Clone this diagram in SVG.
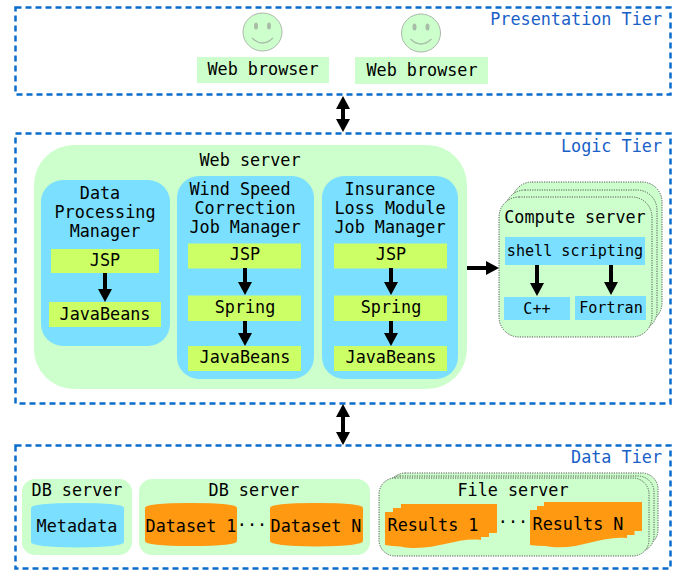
<svg xmlns="http://www.w3.org/2000/svg" width="678" height="570" viewBox="0 0 678 570">
<style>
text{font-family:"DejaVu Sans Mono","Liberation Mono",monospace;font-size:16.8px;fill:#000;text-anchor:middle}
text.s{font-size:15.1px}
text.tier{fill:#1a5fc8;text-anchor:end}
.tb{fill:none;stroke:#0a6ccc;stroke-width:2.5;stroke-dasharray:6 4}
.g{fill:#ccffcc}
.b{fill:#7be0ff}
.l{fill:#ccff66}
.o{fill:#ff9911}
.st{fill:#ccffcc;stroke:#555;stroke-width:1;stroke-dasharray:1.2 1.2}
.face{fill:#ccffcc;stroke:#aab8aa;stroke-width:1}
.eye{fill:#a8bca8}
.smile{fill:none;stroke:#a8bca8;stroke-width:1.2}
.c{fill:none;stroke:#000;stroke-width:4}
</style>
<defs>
<marker id="ah" markerUnits="userSpaceOnUse" markerWidth="14" markerHeight="14" refX="1" refY="7" orient="auto-start-reverse"><path d="M0,0L13,7L0,14Z" fill="#000"/></marker>
</defs>
<g id="presentation-tier">
<rect class="tb" x="15.500" y="7.500" width="655" height="87"/>
<text class="tier" x="662" y="25">Presentation Tier</text>
</g>
<g id="user-1">
<ellipse class="face" cx="262.500" cy="32" rx="19.500" ry="19"/>
<ellipse class="eye" cx="256" cy="26" rx="2" ry="3.500"/><ellipse class="eye" cx="269" cy="26" rx="2" ry="3.500"/>
<path class="smile" d="M252,38Q262.500,48 273,38"/>
</g>
<g id="browser-1"><rect class="g" x="197" y="57" width="132" height="26"/><text x="263" y="75">Web browser</text></g>
<g id="user-2">
<ellipse class="face" cx="421" cy="33" rx="19.500" ry="19"/>
<ellipse class="eye" cx="414.500" cy="27" rx="2" ry="3.500"/><ellipse class="eye" cx="427.500" cy="27" rx="2" ry="3.500"/>
<path class="smile" d="M410.500,39Q421,49 431.500,39"/>
</g>
<g id="browser-2"><rect class="g" x="355" y="57" width="133" height="27"/><text x="422" y="76">Web browser</text></g>

<g id="logic-tier">
<rect class="tb" x="15.500" y="133.500" width="655" height="270"/>
<text class="tier" x="662" y="152">Logic Tier</text>
</g>
<g id="web-server">
<rect class="g" x="34" y="145" width="433" height="244" rx="40"/>
<text x="250" y="166">Web server</text>
</g>
<g id="data-processing-manager">
<rect class="b" x="41" y="180" width="129" height="166" rx="22"/>
<text x="100" y="199">Data</text><text x="105" y="218">Processing</text><text x="105" y="237">Manager</text>
<rect class="l" x="51" y="249" width="108" height="24"/><text x="105" y="266">JSP</text>
<rect class="l" x="49" y="302" width="112" height="25"/><text x="105" y="320">JavaBeans</text>
</g>
<g id="wind-speed-job-manager">
<rect class="b" x="177" y="176" width="137" height="203" rx="22"/>
<text x="240" y="195">Wind Speed</text><text x="245" y="214">Correction</text><text x="245" y="233">Job Manager</text>
<rect class="l" x="188" y="243.500" width="113" height="25"/><text x="245" y="260">JSP</text>
<rect class="l" x="188" y="295.500" width="113" height="25.500"/><text x="245" y="313">Spring</text>
<rect class="l" x="188" y="346" width="113" height="25"/><text x="245" y="363">JavaBeans</text>
</g>
<g id="insurance-loss-job-manager">
<rect class="b" x="322" y="176" width="136" height="203" rx="22"/>
<text x="390" y="195">Insurance</text><text x="390" y="214">Loss Module</text><text x="390" y="233">Job Manager</text>
<rect class="l" x="334" y="243.500" width="113" height="25"/><text x="391" y="260">JSP</text>
<rect class="l" x="334" y="295.500" width="113" height="25.500"/><text x="391" y="313">Spring</text>
<rect class="l" x="334" y="346" width="113" height="25"/><text x="391" y="363">JavaBeans</text>
</g>
<g id="compute-server">
<rect class="st" x="512" y="182" width="150" height="141" rx="20"/>
<rect class="st" x="505" y="190" width="152" height="141" rx="20"/>
<rect class="st" x="499" y="197" width="153" height="140" rx="20"/>
<text x="575" y="223">Compute server</text>
<rect class="b" x="505" y="237" width="140" height="28"/><text class="s" x="575" y="256">shell scripting</text>
<rect class="b" x="504" y="297" width="66" height="23"/><text class="s" x="537" y="314">C++</text>
<rect class="b" x="575" y="296" width="71" height="24"/><text class="s" x="611" y="313">Fortran</text>
</g>

<g id="data-tier">
<rect class="tb" x="15.500" y="445.500" width="655" height="123"/>
<text class="tier" x="662" y="463">Data Tier</text>
</g>
<g id="db-server-1">
<rect class="g" x="22" y="479" width="110" height="76" rx="13"/>
<text x="77" y="496">DB server</text>
<path class="b" d="M31,508Q31,503 77.500,503Q124,503 124,508V542Q124,547 77.500,547.500Q31,547 31,542Z"/>
<text x="77" y="532">Metadata</text>
</g>
<g id="db-server-2">
<rect class="g" x="139" y="479" width="231" height="76" rx="13"/>
<text x="254" y="496">DB server</text>
<path class="o" d="M145,508Q145,503 191,503Q237,503 237,508V541Q237,546 191,546Q145,546 145,541Z"/>
<text x="191" y="532">Dataset 1</text>
<text x="252" y="531">···</text>
<path class="o" d="M270,508Q270,503 316.500,503Q363,503 363,508V541Q363,546 316.500,546.500Q270,546 270,541Z"/>
<text x="316" y="532">Dataset N</text>
</g>
<g id="file-server">
<rect class="st" x="389" y="473" width="269" height="73" rx="16"/>
<rect class="st" x="384" y="476" width="270" height="76" rx="16"/>
<rect class="st" x="379" y="478" width="270" height="78" rx="16"/>
<text x="513" y="496">File server</text>
<path class="o" d="M385,512H393V508H401V504H497V533H489V537H481V540C455,537 432,553 400,546.500Q392,546 385,545Z"/>
<text x="433" y="531">Results 1</text>
<text x="513" y="528">···</text>
<path class="o" d="M530,510H537V506H544V502H642V531H634.500V535H627V538C600,535 577,552 545,546Q537,546 530,545Z"/>
<text x="578" y="530">Results N</text>
</g>

<g id="connectors">
<path class="c" d="M343,108V120" marker-start="url(#ah)" marker-end="url(#ah)"/>
<path class="c" d="M343,416V433" marker-start="url(#ah)" marker-end="url(#ah)"/>
<path class="c" d="M105,273V290" marker-end="url(#ah)"/>
<path class="c" d="M245,268V283" marker-end="url(#ah)"/>
<path class="c" d="M245,321V334" marker-end="url(#ah)"/>
<path class="c" d="M391,268V283" marker-end="url(#ah)"/>
<path class="c" d="M391,321V334" marker-end="url(#ah)"/>
<path class="c" d="M467,268H487" marker-end="url(#ah)"/>
<path class="c" d="M537,265V284" marker-end="url(#ah)"/>
<path class="c" d="M611,265V283" marker-end="url(#ah)"/>
</g>
</svg>
